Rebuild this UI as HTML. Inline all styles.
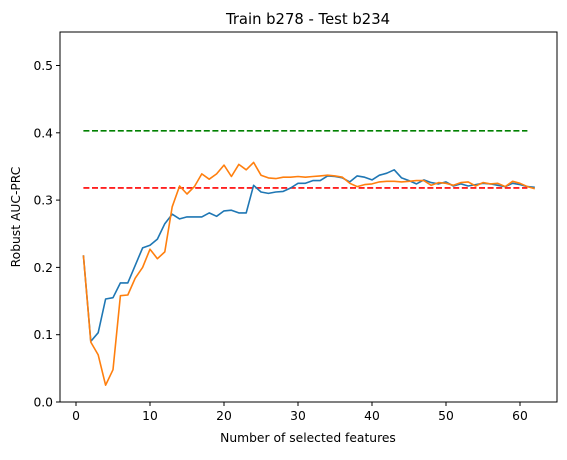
<!DOCTYPE html>
<html><head><meta charset="utf-8"><style>
html,body{margin:0;padding:0;background:#fff;}
svg text{font-family:"DejaVu Sans","Liberation Sans",sans-serif;fill:#000;}
</style></head><body>
<svg id="chart" width="567" height="455" xmlns="http://www.w3.org/2000/svg">
<rect width="567" height="455" fill="#fff"/>
<text x="308" y="24" font-size="14.8" text-anchor="middle">Train b278 - Test b234</text>
<g id="series"></g>
<rect x="60" y="32" width="497" height="370" fill="none" stroke="#000" stroke-width="1"/>
<g id="axes"></g>
<text x="308" y="442" font-size="12.3" text-anchor="middle">Number of selected features</text>
<text x="20" y="217" font-size="12.3" text-anchor="middle" transform="rotate(-90 20 217)">Robust AUC-PRC</text>
</svg>
<script>
const blueValues=[0.218,0.090,0.103,0.153,0.155,0.177,0.177,0.203,0.229,0.233,0.242,0.265,0.279,0.272,0.275,0.275,0.275,0.281,0.276,0.284,0.285,0.281,0.281,0.322,0.312,0.310,0.312,0.313,0.318,0.325,0.325,0.329,0.329,0.336,0.335,0.333,0.327,0.336,0.334,0.330,0.337,0.340,0.345,0.333,0.329,0.324,0.330,0.326,0.324,0.327,0.321,0.324,0.321,0.323,0.325,0.324,0.322,0.320,0.325,0.323,0.320,0.319];
const orangeValues=[0.218,0.089,0.070,0.025,0.048,0.158,0.159,0.184,0.200,0.227,0.213,0.223,0.290,0.321,0.309,0.320,0.339,0.331,0.339,0.352,0.335,0.353,0.345,0.356,0.337,0.333,0.332,0.334,0.334,0.335,0.334,0.335,0.336,0.337,0.336,0.334,0.325,0.320,0.323,0.324,0.327,0.328,0.328,0.327,0.328,0.329,0.329,0.322,0.326,0.325,0.322,0.326,0.327,0.321,0.326,0.324,0.325,0.320,0.328,0.325,0.320,0.317];
const greenRef=0.403;
const redRef=0.318;
const refRange=[1,61];
const xTicks=[0,10,20,30,40,50,60];
const yTicks=[0.0,0.1,0.2,0.3,0.4,0.5];
const NS="http://www.w3.org/2000/svg";
function xs(v){return 76+v*7.4;}
function ys(v){return 402-v*673;}
const ser=document.getElementById('series');
const ax=document.getElementById('axes');
function mk(t,a,p){const e=document.createElementNS(NS,t);for(const k in a)e.setAttribute(k,a[k]);p.appendChild(e);return e;}
function line(vals,color,name){
  const pts=vals.map((v,i)=>xs(i+1).toFixed(1)+','+ys(v).toFixed(1)).join(' ');
  const e=mk('polyline',{points:pts,fill:'none',stroke:color,'stroke-width':1.6,'stroke-linejoin':'round'},ser);
  
  
}
function ref(v,color,name){
  const e=mk('line',{x1:xs(refRange[0]),x2:xs(refRange[1]),y1:ys(v),y2:ys(v),stroke:color,'stroke-width':1.6,'stroke-dasharray':'6,2.6'},ser);
  
  
}
ref(greenRef,'#008000','green-reference-line');
ref(redRef,'#ff0000','red-reference-line');
line(blueValues,'#1f77b4','blue-series-line');
line(orangeValues,'#ff7f0e','orange-series-line');
xTicks.forEach(t=>{
  const l=mk('line',{x1:xs(t),x2:xs(t),y1:402,y2:406,stroke:'#000'},ax);
  
  
  const tx=mk('text',{x:xs(t),y:420,'font-size':12.3,'text-anchor':'middle'},ax);
  tx.textContent=t;
  
  
});
yTicks.forEach(t=>{
  const l=mk('line',{x1:56,x2:60,y1:ys(t),y2:ys(t),stroke:'#000'},ax);
  
  
  const tx=mk('text',{x:53,y:ys(t)+4.5,'font-size':12.3,'text-anchor':'end'},ax);
  tx.textContent=t.toFixed(1);
  
  
});
</script>
</body></html>
